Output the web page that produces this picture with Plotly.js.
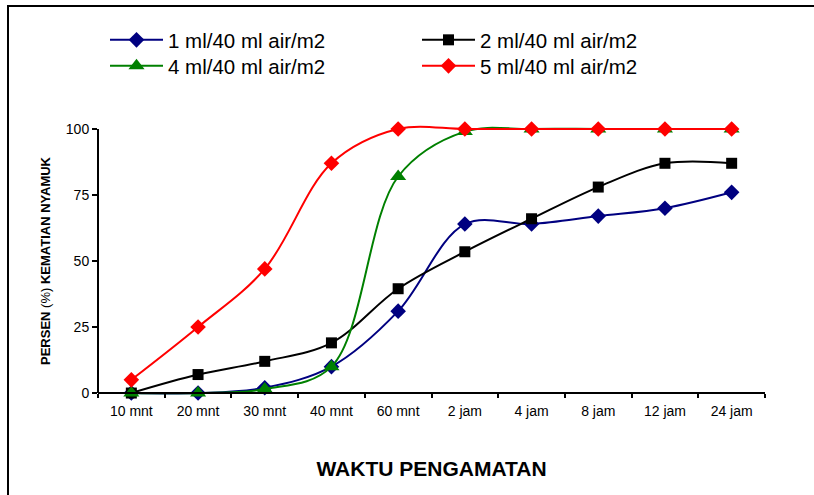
<!DOCTYPE html>
<html><head><meta charset="utf-8">
<script src="https://cdn.plot.ly/plotly-3.0.1.min.js"></script>
<style>html,body{margin:0;padding:0;background:#fff;} #chart{width:814px;height:495px;}</style>
</head><body><div id="chart"></div>
<script>
const categories = ["10 mnt","20 mnt","30 mnt","40 mnt","60 mnt","2 jam","4 jam","8 jam","12 jam","24 jam"];
const dose1 = [0, 0, 2, 10, 31, 64, 64, 67, 70, 76];
const dose2 = [0, 7, 12, 19, 39.5, 53.5, 66, 78, 87, 87];
const dose4 = [0, 0, 1.5, 10, 82, 99, 100, 100, 100, 100];
const dose5 = [5, 25, 47, 87, 100, 100, 100, 100, 100, 100];
const seriesNames = ["1 ml/40 ml air/m2", "2 ml/40 ml air/m2", "4 ml/40 ml air/m2", "5 ml/40 ml air/m2"];
const yTicks = [0, 25, 50, 75, 100];

const FONT = "Liberation Sans, Arial, Helvetica, sans-serif";

function mk(y, name, color, symbol, size, legend) {
  return {
    x: categories, y: y, name: name, type: "scatter", mode: "lines+markers",
    line: {color: color, width: 2, shape: "spline", smoothing: 1},
    marker: {color: color, symbol: symbol, size: size},
    cliponaxis: false, legend: legend
  };
}

const data = [
  mk(dose1, seriesNames[0], "#000080", "diamond", 12, "legend"),
  mk(dose2, seriesNames[1], "#000000", "square", 11, "legend2"),
  mk(dose4, seriesNames[2], "#008000", "triangle-up", 14, "legend3"),
  mk(dose5, seriesNames[3], "#FF0000", "diamond", 12, "legend4")
];

const yMin = -1.5, yMax = 101.5;
const L = 98, R = 49, T = 125, B = 98;
const pw = 814 - L - R, ph = 495 - T - B;
const px = v => (v - L) / pw;
const py = v => (495 - B - v) / ph;

function leg(xp, yp) {
  return {
    x: px(xp), y: py(yp), xanchor: "left", yanchor: "top",
    orientation: "v", font: {size: 20.5, family: FONT}, itemwidth: 53,
    bgcolor: "rgba(0,0,0,0)", borderwidth: 0
  };
}

const layout = {
  width: 814, height: 495,
  margin: {l: L, r: R, t: T, b: B, autoexpand: false},
  paper_bgcolor: "#fff", plot_bgcolor: "#fff",
  font: {family: FONT, color: "#000", size: 14},
  showlegend: true,
  xaxis: {
    type: "category", range: [-0.5, 9.5],
    anchor: "free", position: (0 - yMin) / (yMax - yMin),
    showline: true, linecolor: "#000", linewidth: 2,
    ticks: "outside", tickson: "boundaries", ticklen: 4, tickwidth: 2, tickcolor: "#000",
    showgrid: false, zeroline: false, ticklabelstandoff: 5,
    tickfont: {size: 14, family: FONT},
    title: {text: "<b>WAKTU PENGAMATAN</b>", font: {size: 21, family: FONT}, standoff: 42}
  },
  yaxis: {
    range: [yMin, yMax], tickvals: yTicks,
    showline: false,
    ticks: "outside", ticklen: 5, tickwidth: 2, tickcolor: "#000",
    showgrid: false, zeroline: false,
    tickfont: {size: 14, family: FONT},
    title: {text: "<b>PERSEN</b> (%) <b>KEMATIAN NYAMUK</b>", font: {size: 13, family: FONT}, standoff: 12}
  },
  legend: leg(105, 20),
  legend2: leg(417, 20),
  legend3: leg(105, 46),
  legend4: leg(417, 46),
  shapes: [
    {
      type: "path", xref: "paper", yref: "paper",
      path: "M " + px(8) + "," + py(520) + " L " + px(8) + "," + py(6) + " L " + px(840) + "," + py(6),
      line: {color: "#000", width: 2}
    },
    {
      type: "line", xref: "paper", yref: "y", x0: 0, x1: 0, y0: 0, y1: 100,
      line: {color: "#000", width: 2}, layer: "above"
    }
  ]
};

Plotly.newPlot("chart", data, layout, {displayModeBar: false, staticPlot: true});
</script></body></html>
